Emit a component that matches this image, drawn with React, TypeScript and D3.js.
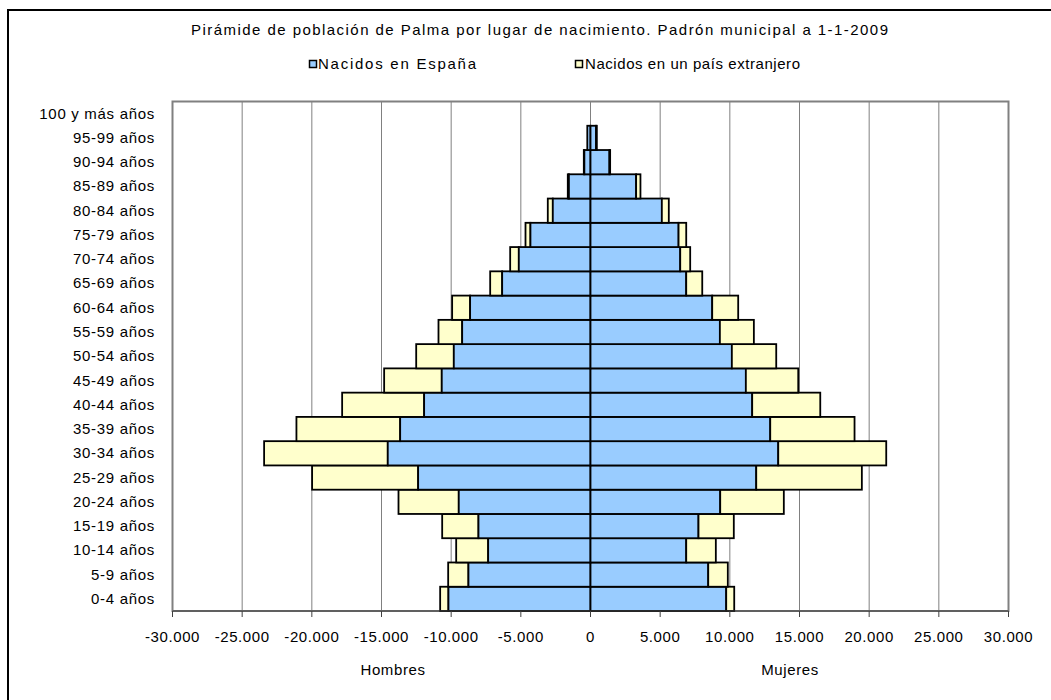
import React from "react";
import * as d3 from "d3";

const ageGroups = [
  "0-4 años", "5-9 años", "10-14 años", "15-19 años", "20-24 años", "25-29 años",
  "30-34 años", "35-39 años", "40-44 años", "45-49 años", "50-54 años", "55-59 años",
  "60-64 años", "65-69 años", "70-74 años", "75-79 años", "80-84 años", "85-89 años",
  "90-94 años", "95-99 años", "100 y más años",
];
const hombresEspana = [10195, 8760, 7345, 8040, 9455, 12370, 14550, 13660, 11940, 10675, 9810, 9210, 8640, 6340, 5145, 4310, 2705, 1550, 440, 230, 0];
const hombresExtranjero = [595, 1455, 2295, 2605, 4325, 7610, 8875, 7445, 5885, 4135, 2700, 1700, 1290, 860, 620, 355, 360, 80, 40, 20, 0];
const mujeresEspana = [9740, 8450, 6870, 7750, 9310, 11895, 13475, 12900, 11605, 11150, 10145, 9285, 8735, 6870, 6440, 6320, 5120, 3275, 1360, 400, 0];
const mujeresExtranjero = [575, 1405, 2125, 2535, 4565, 7580, 7750, 6050, 4885, 3760, 3185, 2440, 1865, 1150, 715, 550, 500, 310, 50, 55, 0];
const xTicks = [-30000, -25000, -20000, -15000, -10000, -5000, 0, 5000, 10000, 15000, 20000, 25000, 30000];

const title = "Pirámide de población de Palma por lugar de nacimiento. Padrón municipal a 1-1-2009";
const seriesNames = ["Nacidos en España", "Nacidos en un país extranjero"];
const sideLabels = ["Hombres", "Mujeres"];

const BLUE = "#99CCFF";
const YELLOW = "#FFFFCC";
const FONT = "Arial, 'Liberation Sans', sans-serif";

const fmt = (v: number) => {
  const s = d3.format(",")(Math.abs(v)).replace(/,/g, ".");
  return (v < 0 ? "-" : "") + s;
};

export default function App() {
  const left = 172.5, right = 1008.5, top = 101.5, bottom = 611;
  const x = d3.scaleLinear().domain([-30000, 30000]).range([left, right]);
  const y = d3.scaleBand<string>().domain([...ageGroups].reverse()).range([top, bottom]).padding(0);
  const bw = y.bandwidth();
  const gridTicks = xTicks.filter((t) => t > -30000 && t < 30000);

  const bar = (key: string, a: number, b: number, yy: number, fill: string) => {
    const x0 = Math.min(x(a), x(b));
    const w = Math.abs(x(b) - x(a));
    if (w < 0.3) return null;
    return <rect key={key} x={x0} y={yy} width={w} height={bw} fill={fill} />;
  };

  return (
    <svg width={1051} height={700} style={{ position: "absolute", left: 0, top: 0, background: "#fff" }} fontFamily={FONT}>
      <rect x={8} y={10} width={1100} height={750} fill="#fff" stroke="#000" strokeWidth={2} />
      <text x={539.5} y={35} textAnchor="middle" fontSize={15} textLength={697} lengthAdjust="spacing">{title}</text>

      {/* legend */}
      <rect x={309.5} y={60.5} width={7} height={7} fill={BLUE} stroke="#000" strokeWidth={1.5} />
      <text x={318} y={69} fontSize={15} textLength={158} lengthAdjust="spacing">{seriesNames[0]}</text>
      <rect x={575.5} y={60.5} width={7} height={7} fill={YELLOW} stroke="#000" strokeWidth={1.5} />
      <text x={585} y={69} fontSize={15} textLength={215} lengthAdjust="spacing">{seriesNames[1]}</text>

      {/* gridlines */}
      {gridTicks.map((t) => (
        <line key={"g" + t} x1={x(t)} x2={x(t)} y1={top} y2={bottom} stroke="#808080" strokeWidth={1} />
      ))}
      <rect x={left} y={top} width={right - left} height={bottom - top} fill="none" stroke="#808080" strokeWidth={2} />

      {/* bars */}
      {ageGroups.map((g, i) => {
        const yy = y(g)!;
        const hs = hombresEspana[i], hf = hombresExtranjero[i];
        const ms = mujeresEspana[i], mf = mujeresExtranjero[i];
        return (
          <g key={g} stroke="#000" strokeWidth={1.8}>
            {bar("hf", -(hs + hf), -hs, yy, YELLOW)}
            {bar("hs", -hs, 0, yy, BLUE)}
            {bar("ms", 0, ms, yy, BLUE)}
            {bar("mf", ms, ms + mf, yy, YELLOW)}
          </g>
        );
      })}

      {/* x axis */}
      <line x1={left} x2={right} y1={bottom} y2={bottom} stroke="#404040" strokeWidth={1.2} />
      {xTicks.map((t) => (
        <g key={"t" + t}>
          <line x1={x(t)} x2={x(t)} y1={bottom} y2={bottom + 6} stroke="#404040" strokeWidth={1} />
          <text x={x(t)} y={642} textAnchor="middle" fontSize={15} letterSpacing={0.6}>{fmt(t)}</text>
        </g>
      ))}

      {/* y labels */}
      {ageGroups.map((g) => (
        <text key={"l" + g} x={155} y={y(g)! + bw / 2 + 5} textAnchor="end" fontSize={15} letterSpacing={0.7}>{g}</text>
      ))}

      <text x={393} y={675} textAnchor="middle" fontSize={15} letterSpacing={0.6}>{sideLabels[0]}</text>
      <text x={790} y={675} textAnchor="middle" fontSize={15} letterSpacing={0.6}>{sideLabels[1]}</text>
    </svg>
  );
}
